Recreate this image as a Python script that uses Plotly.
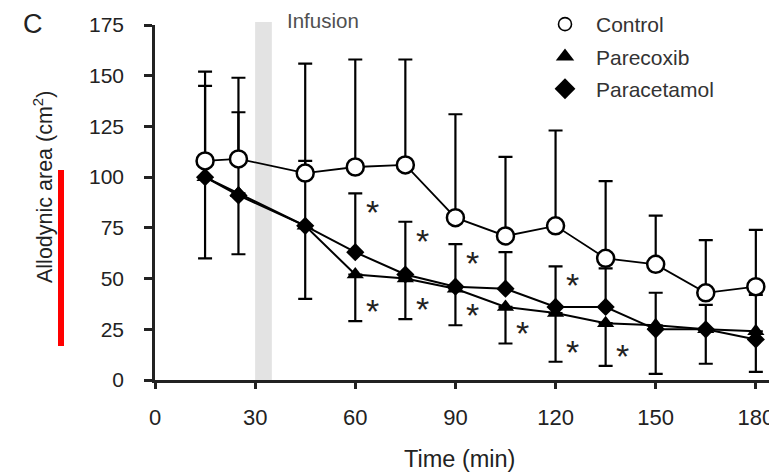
import plotly.graph_objects as go

# ---- data ----
time_min = [15, 25, 45, 60, 75, 90, 105, 120, 135, 150, 165, 180]
control = [108, 109, 102, 105, 106, 80, 71, 76, 60, 57, 43, 46]
control_upper = [152, 149, 156, 158, 158, 131, 110, 123, 98, 81, 69, 74]
parecoxib = [100, 92, 76, 52, 50, 45, 36, 33, 28, 27, 25, 24]
parecoxib_lower = [60, 62, 40, 29, 30, 27, 18, 9, 7, 3, 8, 4]
paracetamol = [100, 91, 76, 63, 52, 46, 45, 36, 36, 25, 25, 20]
paracetamol_upper = [145, 132, 108, 92, 78, 67, 63, 56, 55, 43, 37, 42]
sig_paracetamol_times = [60, 75, 90, 120]
sig_parecoxib_times = [60, 75, 90, 105, 120, 135]
infusion_window = [30, 35]
x_ticks = [0, 30, 60, 90, 120, 150, 180]
y_ticks = [0, 25, 50, 75, 100, 125, 150, 175]

FONT = "Liberation Sans, Arial, sans-serif"
TXT = "#222222"
L, R, T, B = 155, 0, 25, 95
W, H = 769, 475
pw, ph = W - L - R, H - T - B

def plus(top, val):
    return [t - v for t, v in zip(top, val)]

fig = go.Figure()

# Parecoxib: downward error bars
fig.add_trace(go.Scatter(
    x=time_min, y=parecoxib, mode="lines+markers", name="Parecoxib", showlegend=False,
    line=dict(color="black", width=2),
    marker=dict(symbol="triangle-up", size=15, color="black"),
    error_y=dict(type="data", symmetric=False, array=[0] * len(parecoxib),
                 arrayminus=plus(parecoxib, parecoxib_lower),
                 color="black", thickness=2.2, width=7),
))
# Paracetamol: upward error bars
fig.add_trace(go.Scatter(
    x=time_min, y=paracetamol, mode="lines+markers", name="Paracetamol", showlegend=False,
    line=dict(color="black", width=2),
    marker=dict(symbol="diamond", size=14, color="black"),
    error_y=dict(type="data", symmetric=False, array=plus(paracetamol_upper, paracetamol),
                 arrayminus=[0] * len(paracetamol),
                 color="black", thickness=2.2, width=7),
))
# Control: upward error bars
fig.add_trace(go.Scatter(
    x=time_min, y=control, mode="lines+markers", name="Control", showlegend=False,
    line=dict(color="black", width=1.8),
    marker=dict(symbol="circle", size=17, color="white", line=dict(color="black", width=2.5)),
    error_y=dict(type="data", symmetric=False, array=plus(control_upper, control),
                 arrayminus=[0] * len(control),
                 color="black", thickness=2.2, width=7),
))

# legend entries (markers only)
legend_items = [
    ("Control", dict(symbol="circle", size=13, color="white", line=dict(color="black", width=1.6))),
    ("Parecoxib", dict(symbol="triangle-up", size=16, color="black")),
    ("Paracetamol", dict(symbol="diamond", size=16, color="black")),
]
for i, (nm, mk) in enumerate(legend_items):
    fig.add_trace(go.Scatter(x=[None], y=[None], mode="markers", name=nm, marker=mk,
                             legendgroup=f"g{i}", showlegend=True))

annotations = []
for t in sig_paracetamol_times:
    i = time_min.index(t)
    annotations.append(dict(x=t, y=paracetamol_upper[i], xref="x", yref="y", text="*",
                            showarrow=False, xshift=17, yshift=-19,
                            font=dict(family=FONT, size=34, color=TXT)))
for t in sig_parecoxib_times:
    i = time_min.index(t)
    annotations.append(dict(x=t, y=parecoxib_lower[i], xref="x", yref="y", text="*",
                            showarrow=False, xshift=17, yshift=10,
                            font=dict(family=FONT, size=34, color=TXT)))

def px_x(p):
    return (p - L) / pw

def px_y(p):
    return (H - B - p) / ph

annotations += [
    dict(x=infusion_window[1] + 5, y=px_y(20), xref="x", yref="paper", text="Infusion",
         showarrow=False, xanchor="left", yanchor="middle", xshift=-4,
         font=dict(family=FONT, size=20.5, color="#505050")),
    dict(x=px_x(33), y=px_y(24), xref="paper", yref="paper", text="C", showarrow=False,
         xanchor="center", yanchor="middle", font=dict(family=FONT, size=27, color=TXT)),
    dict(x=px_x(43), y=px_y(187), xref="paper", yref="paper",
         text="Allodynic area (cm<sup>2</sup>)", textangle=-90, showarrow=False,
         xanchor="center", yanchor="middle", font=dict(family=FONT, size=21.5, color=TXT)),
    dict(x=px_x(459), y=px_y(459), xref="paper", yref="paper", text="Time (min)",
         showarrow=False, xanchor="center", yanchor="middle",
         font=dict(family=FONT, size=23.5, color=TXT)),
]

shapes = [
    dict(type="rect", xref="x", yref="paper", x0=infusion_window[0], x1=infusion_window[1],
         y0=0, y1=px_y(22), fillcolor="#e3e3e3", line=dict(width=0), layer="below"),
    dict(type="rect", xref="paper", yref="paper", x0=px_x(58), x1=px_x(64),
         y0=px_y(346), y1=px_y(170), fillcolor="#ff0000", line=dict(width=0), layer="above"),
]

fig.update_layout(
    width=W, height=H,
    margin=dict(l=L, r=R, t=T, b=B, pad=0, autoexpand=False),
    paper_bgcolor="white", plot_bgcolor="white",
    font=dict(family=FONT, size=20, color=TXT),
    showlegend=True,
    legend=dict(x=px_x(534), y=px_y(4), xref="paper", yref="paper", xanchor="left", yanchor="top",
                bgcolor="rgba(0,0,0,0)", font=dict(family=FONT, size=21, color="#333333"),
                tracegroupgap=2, itemwidth=52),
    annotations=annotations,
    shapes=shapes,
    xaxis=dict(range=[0, pw / 3.338], tickvals=x_ticks, ticktext=[str(v) for v in x_ticks],
               showgrid=False, zeroline=False, showline=True, linecolor="#222222", linewidth=2.5,
               ticks="outside", ticklen=6, tickwidth=2.5, tickcolor="#222222",
               ticklabeloverflow="allow",
               ticklabelstandoff=10, tickfont=dict(family=FONT, size=22, color=TXT)),
    yaxis=dict(range=[0, 175], tickvals=y_ticks, showgrid=False, zeroline=False,
               showline=True, linecolor="#222222", linewidth=2.5,
               ticks="outside", ticklen=8, tickwidth=2.5, tickcolor="#222222",
               ticklabelstandoff=16, tickfont=dict(family=FONT, size=21, color=TXT)),
)

fig.write_html("out.html")
